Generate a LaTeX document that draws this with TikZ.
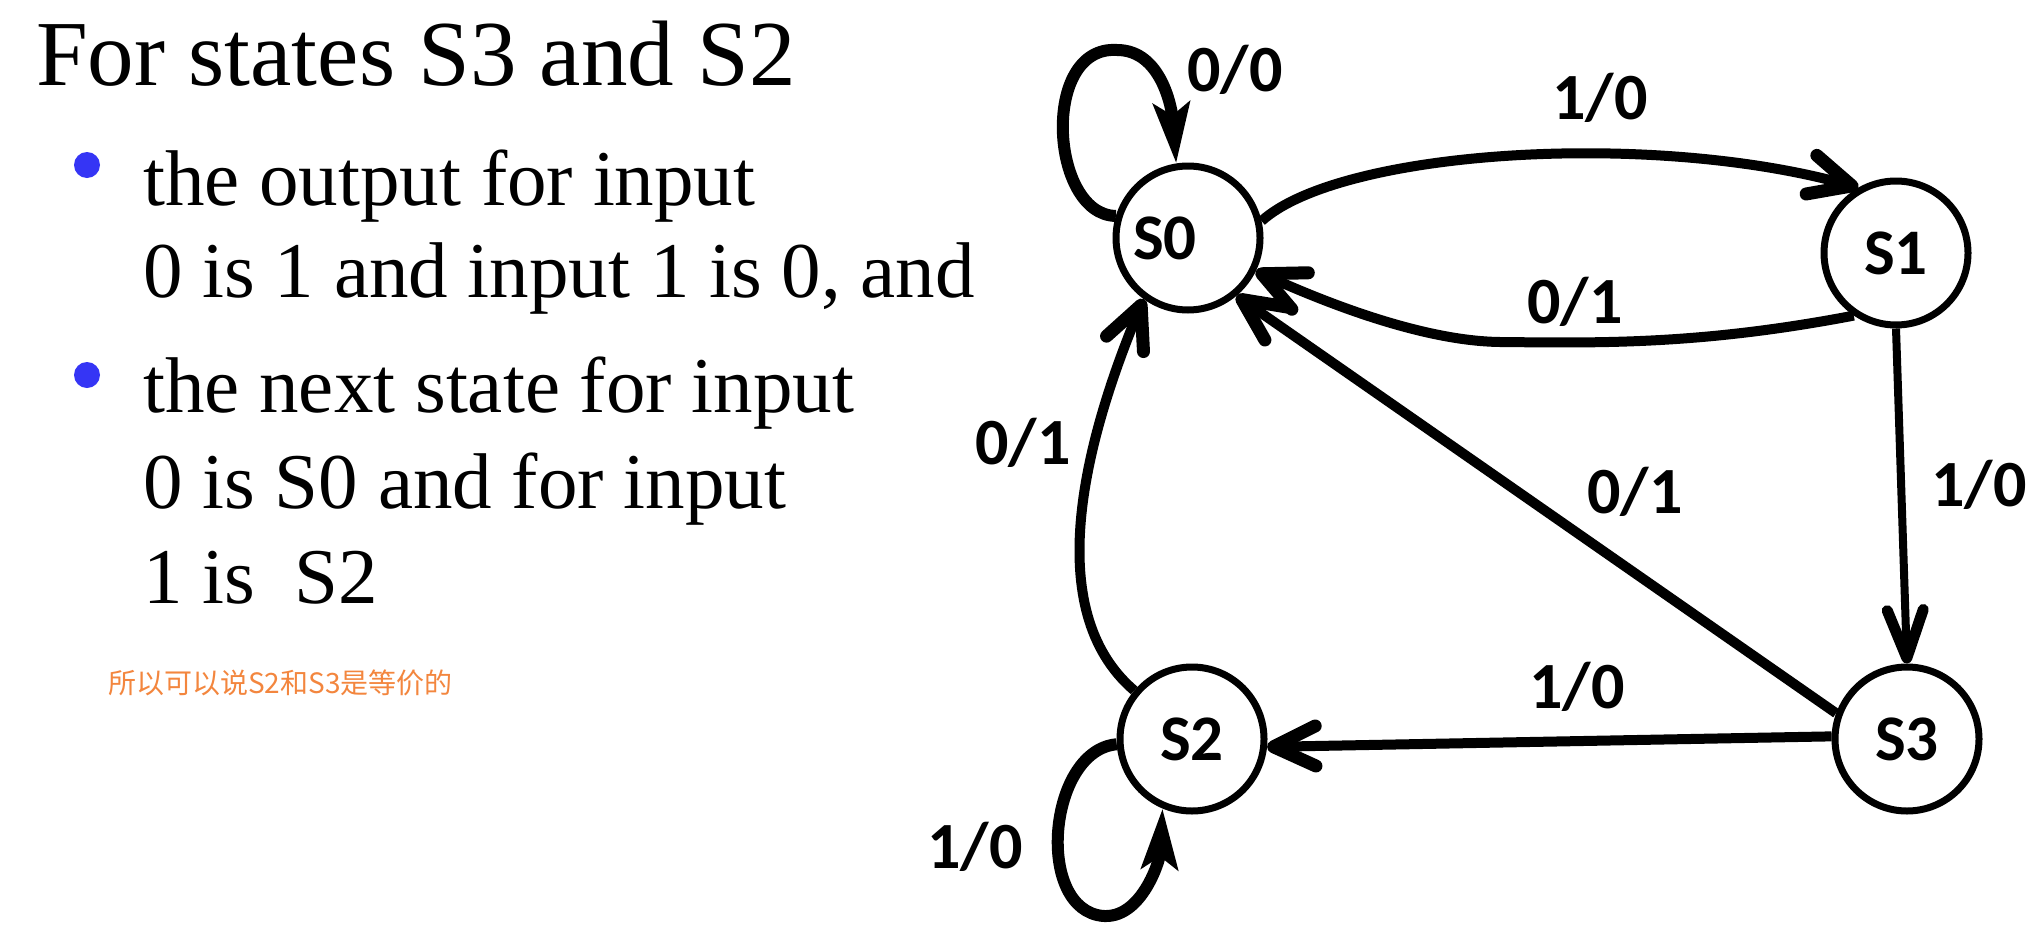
\documentclass[tikz,border=0pt]{standalone}
\usepackage{fontspec}
\setmainfont{Liberation Serif}
\newfontfamily\lab{Carlito}
\newfontfamily\cjk{Noto Sans CJK SC}
\usetikzlibrary{arrows.meta}
\definecolor{bulletblue}{HTML}{3535F5}
\definecolor{noteorange}{HTML}{F3863E}
\begin{document}
\begin{tikzpicture}[x=1pt,y=-1pt,
 state/.style={circle,draw,line width=7pt,minimum size=144pt,inner sep=0pt,font=\lab\bfseries\fontsize{65}{65}\selectfont},
 elabel/.style={inner sep=0pt,font=\lab\bfseries\fontsize{66}{66}\selectfont},
 edge/.style={line width=10pt,-{Straight Barb[length=42pt,width=40pt,line width=13pt,round]}},
 thinedge/.style={line width=8pt,-{Straight Barb[length=48pt,width=36pt,line width=11pt,round]}},
 loopedge/.style={line width=12pt,-{Stealth[length=60pt,width=36pt,inset=12pt]}},
 txt/.style={inner sep=0pt,anchor=base west,font=\fontsize{79}{95}\selectfont},
 dot/.style={circle,fill=bulletblue,minimum size=26pt,inner sep=0pt},
 ]
\fill[white] (0,0) rectangle (2043,937);
\useasboundingbox (0,0) rectangle (2043,937);

% left text
\node[txt,font=\fontsize{93}{110}\selectfont] (title) at (36,85) {For states S3 and S2};
\node[dot] (d1) at (87,165) {};
\node[txt] (b1a) at (143,205) {the output for input};
\node[txt] (b1b) at (143,297) {0 is 1 and input 1 is 0, and};
\node[dot] (d2) at (87,375) {};
\node[txt] (b2a) at (143,412) {the next state for input};
\node[txt] (b2b) at (143,508) {0 is S0 and for input};
\node[txt] (b2c) at (143,603) {1 is\ \ S2};
\node[inner sep=0pt,anchor=west,text=noteorange,font=\cjk\fontsize{28}{28}\selectfont] (note) at (108,683) {所以可以说S2和S3是等价的};

% states
\node[state] (S0) at (1188,238) {\hspace*{-46pt}S0};
\node[state] (S1) at (1896,253) {S1};
\node[state] (S2) at (1192,739) {S2};
\node[state] (S3) at (1907,739) {S3};

% edges
\draw[loopedge] (S0.163) .. controls (1050,215) and (1040,45) .. (1117,50) .. controls (1162,50) and (1172,110) .. (S0.99);
\draw[edge] (S0.13) .. controls (1340,150) and (1650,130) .. (S1.120);
\draw[edge] (S1.236) .. controls (1700,345) and (1600,343) .. (1500,342) .. controls (1420,341) and (1320,300) .. (S0.-26);
\draw[thinedge] (S1.south) -- (S3.north);
\draw[edge] (S3.160) -- (S0.-50);
\draw[edge] (S3.178) -- (S2.-6);
\draw[edge] (S2.140) .. controls (1040,610) and (1085,440) .. (S0.234);
\draw[loopedge] (S2.184) .. controls (1050,750) and (1035,900) .. (1097,915) .. controls (1140,925) and (1160,860) .. (S2.-113);

% edge labels
\node[elabel] (l00) at (1235,70) {0/0};
\node[elabel] (l10a) at (1600,98) {1/0};
\node[elabel] (l01a) at (1575,302) {0/1};
\node[elabel] (l10b) at (1979,485) {1/0};
\node[elabel] (l01b) at (1635,492) {0/1};
\node[elabel] (l01c) at (1023,443) {0/1};
\node[elabel] (l10c) at (1577,687) {1/0};
\node[elabel] (l10d) at (975,847) {1/0};
\end{tikzpicture}
\end{document}
